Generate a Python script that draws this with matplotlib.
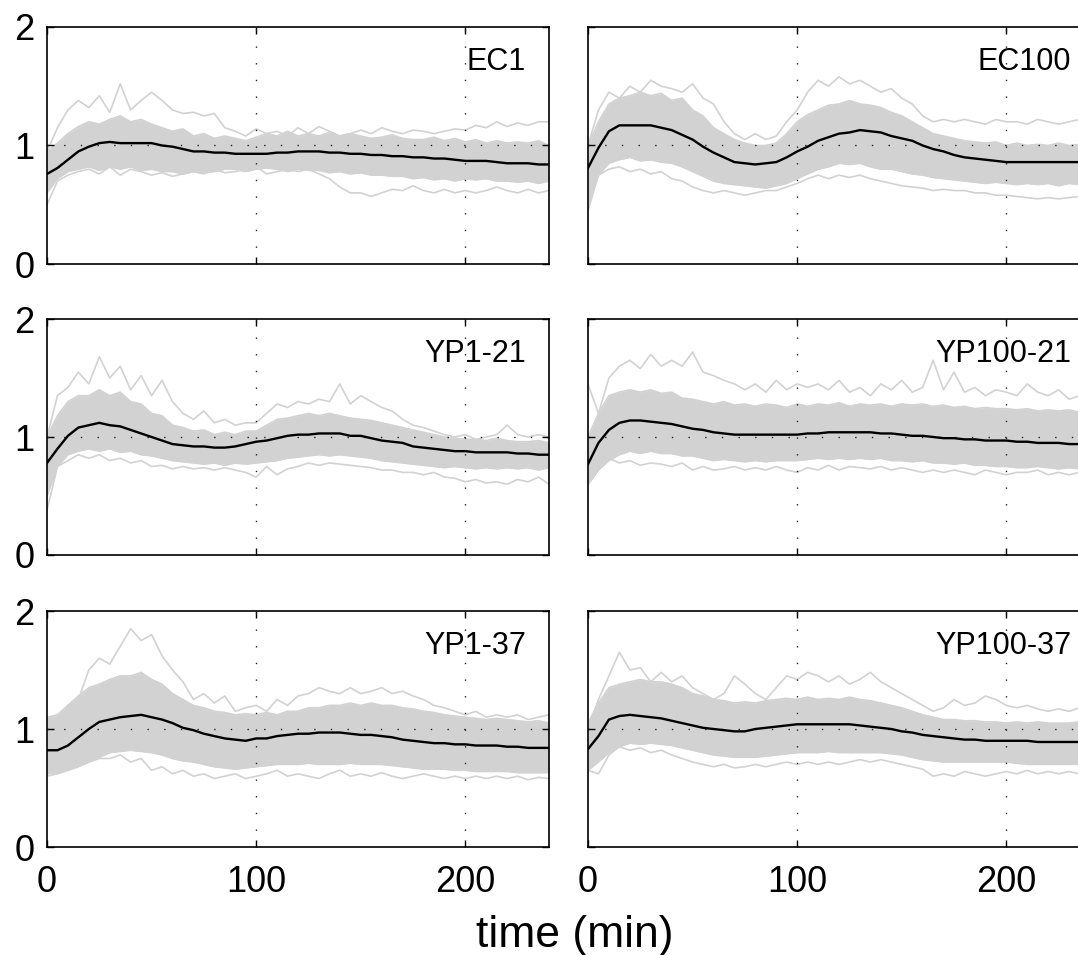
import matplotlib
matplotlib.use("Agg")
import matplotlib.pyplot as plt

plt.rcParams['font.family'] = ['Liberation Sans', 'DejaVu Sans']

# time grid (min)
t5 = list(range(0, 245, 5))

# ---- EC1 ----
ec1_mean = [0.76, 0.81, 0.88, 0.95, 0.99, 1.02, 1.03, 1.02, 1.02, 1.02, 1.02, 1.00, 0.99, 0.97, 0.95, 0.95,
            0.94, 0.94, 0.93, 0.93, 0.93, 0.93, 0.94, 0.94, 0.95, 0.95, 0.95, 0.94, 0.94, 0.93, 0.93, 0.92,
            0.92, 0.91, 0.91, 0.90, 0.90, 0.89, 0.89, 0.88, 0.87, 0.87, 0.87, 0.86, 0.85, 0.85, 0.85, 0.84, 0.84]
ec1_hi = [0.95, 1.02, 1.10, 1.16, 1.20, 1.18, 1.22, 1.25, 1.20, 1.22, 1.18, 1.15, 1.12, 1.14, 1.08, 1.10,
          1.06, 1.08, 1.06, 1.04, 1.07, 1.10, 1.08, 1.12, 1.08, 1.10, 1.08, 1.11, 1.08, 1.10, 1.08, 1.06,
          1.07, 1.09, 1.06, 1.05, 1.05, 1.07, 1.04, 1.06, 1.03, 1.05, 1.02, 1.04, 1.02, 1.03, 1.02, 1.04, 1.00]
ec1_lo = [0.60, 0.72, 0.78, 0.80, 0.82, 0.79, 0.82, 0.80, 0.82, 0.79, 0.80, 0.78, 0.78, 0.76, 0.78, 0.77,
          0.78, 0.80, 0.80, 0.78, 0.80, 0.81, 0.80, 0.78, 0.80, 0.79, 0.79, 0.77, 0.78, 0.76, 0.77, 0.75,
          0.75, 0.74, 0.74, 0.72, 0.73, 0.71, 0.72, 0.70, 0.72, 0.71, 0.72, 0.70, 0.70, 0.69, 0.70, 0.68, 0.70]
ec1_up = [0.95, 1.15, 1.30, 1.38, 1.32, 1.42, 1.28, 1.52, 1.30, 1.38, 1.45, 1.38, 1.30, 1.27, 1.28, 1.25,
          1.27, 1.15, 1.12, 1.08, 1.14, 1.10, 1.12, 1.08, 1.15, 1.10, 1.16, 1.12, 1.08, 1.10, 1.13, 1.10,
          1.15, 1.12, 1.10, 1.13, 1.12, 1.10, 1.12, 1.14, 1.13, 1.17, 1.15, 1.20, 1.16, 1.19, 1.17, 1.20, 1.20]
ec1_dn = [0.50, 0.70, 0.75, 0.78, 0.80, 0.76, 0.82, 0.75, 0.80, 0.78, 0.75, 0.77, 0.74, 0.76, 0.78, 0.76,
          0.80, 0.77, 0.78, 0.80, 0.82, 0.76, 0.78, 0.80, 0.78, 0.80, 0.76, 0.72, 0.65, 0.60, 0.60, 0.57,
          0.60, 0.63, 0.62, 0.66, 0.62, 0.60, 0.63, 0.60, 0.62, 0.60, 0.62, 0.65, 0.62, 0.60, 0.63, 0.60, 0.62]

# ---- EC100 ----
ec100_mean = [0.81, 0.98, 1.12, 1.17, 1.17, 1.17, 1.17, 1.15, 1.13, 1.09, 1.05, 0.99, 0.94, 0.90, 0.86, 0.85,
              0.84, 0.85, 0.86, 0.90, 0.95, 0.99, 1.04, 1.07, 1.10, 1.11, 1.13, 1.12, 1.11, 1.08, 1.06, 1.04,
              1.00, 0.97, 0.95, 0.92, 0.90, 0.89, 0.88, 0.87, 0.86, 0.86, 0.86, 0.86, 0.86, 0.86, 0.86, 0.86, 0.87]
ec100_hi = [1.00, 1.20, 1.35, 1.40, 1.42, 1.45, 1.42, 1.44, 1.38, 1.40, 1.30, 1.25, 1.15, 1.10, 1.05, 1.02,
            1.00, 1.00, 1.02, 1.10, 1.20, 1.26, 1.30, 1.34, 1.35, 1.38, 1.35, 1.34, 1.32, 1.28, 1.25, 1.20,
            1.15, 1.10, 1.08, 1.06, 1.04, 1.03, 1.02, 1.03, 1.00, 1.02, 1.00, 1.01, 1.00, 1.02, 1.00, 1.01, 1.00]
ec100_lo = [0.50, 0.75, 0.85, 0.88, 0.90, 0.87, 0.88, 0.86, 0.85, 0.82, 0.78, 0.74, 0.70, 0.68, 0.67, 0.66,
            0.65, 0.64, 0.66, 0.68, 0.72, 0.76, 0.80, 0.82, 0.85, 0.84, 0.85, 0.82, 0.80, 0.80, 0.78, 0.76,
            0.75, 0.73, 0.72, 0.71, 0.70, 0.69, 0.68, 0.69, 0.68, 0.67, 0.68, 0.67, 0.68, 0.66, 0.68, 0.67, 0.68]
ec100_up = [1.00, 1.30, 1.45, 1.40, 1.50, 1.45, 1.55, 1.50, 1.48, 1.45, 1.52, 1.40, 1.35, 1.20, 1.10, 1.05,
            1.10, 1.05, 1.08, 1.20, 1.30, 1.45, 1.55, 1.50, 1.58, 1.52, 1.55, 1.50, 1.45, 1.48, 1.40, 1.35,
            1.25, 1.20, 1.22, 1.20, 1.22, 1.20, 1.18, 1.22, 1.20, 1.20, 1.18, 1.22, 1.20, 1.18, 1.20, 1.22, 1.20]
ec100_dn = [0.45, 0.75, 0.80, 0.82, 0.78, 0.80, 0.76, 0.78, 0.72, 0.70, 0.65, 0.62, 0.60, 0.62, 0.60, 0.58,
            0.60, 0.62, 0.62, 0.65, 0.68, 0.72, 0.75, 0.72, 0.75, 0.73, 0.75, 0.72, 0.70, 0.68, 0.66, 0.65,
            0.64, 0.62, 0.63, 0.62, 0.62, 0.60, 0.60, 0.58, 0.58, 0.57, 0.56, 0.55, 0.56, 0.55, 0.56, 0.57, 0.58]

# ---- YP1-21 ----
yp121_mean = [0.78, 0.90, 1.01, 1.08, 1.10, 1.12, 1.10, 1.09, 1.06, 1.03, 1.00, 0.97, 0.94, 0.93, 0.92, 0.92,
              0.91, 0.91, 0.92, 0.94, 0.96, 0.97, 0.99, 1.01, 1.02, 1.02, 1.03, 1.03, 1.03, 1.01, 1.01, 0.99,
              0.97, 0.96, 0.95, 0.92, 0.91, 0.90, 0.89, 0.88, 0.88, 0.87, 0.87, 0.87, 0.87, 0.86, 0.86, 0.85, 0.85]
yp121_hi = [1.00, 1.18, 1.30, 1.35, 1.35, 1.40, 1.35, 1.38, 1.30, 1.28, 1.20, 1.18, 1.10, 1.08, 1.05, 1.06,
            1.02, 1.04, 1.02, 1.05, 1.05, 1.10, 1.15, 1.16, 1.18, 1.20, 1.18, 1.20, 1.18, 1.16, 1.15, 1.14,
            1.12, 1.10, 1.08, 1.06, 1.04, 1.02, 1.00, 0.99, 0.98, 0.98, 0.97, 0.99, 0.97, 0.96, 0.96, 0.97, 0.95]
yp121_lo = [0.50, 0.75, 0.85, 0.88, 0.90, 0.88, 0.90, 0.87, 0.88, 0.85, 0.84, 0.82, 0.80, 0.79, 0.78, 0.77,
            0.78, 0.76, 0.78, 0.77, 0.78, 0.79, 0.80, 0.82, 0.83, 0.84, 0.85, 0.84, 0.85, 0.84, 0.83, 0.82,
            0.80, 0.79, 0.78, 0.77, 0.76, 0.75, 0.74, 0.75, 0.74, 0.73, 0.74, 0.73, 0.74, 0.73, 0.74, 0.72, 0.74]
yp121_up = [1.00, 1.35, 1.42, 1.55, 1.45, 1.68, 1.50, 1.60, 1.40, 1.52, 1.35, 1.48, 1.30, 1.20, 1.15, 1.22,
            1.12, 1.15, 1.10, 1.12, 1.12, 1.20, 1.28, 1.25, 1.30, 1.28, 1.32, 1.30, 1.45, 1.28, 1.35, 1.30,
            1.25, 1.22, 1.15, 1.10, 1.08, 1.05, 1.02, 1.00, 1.02, 0.98, 1.00, 1.02, 1.10, 1.02, 1.00, 1.02, 1.00]
yp121_dn = [0.38, 0.75, 0.80, 0.85, 0.82, 0.85, 0.80, 0.82, 0.78, 0.80, 0.75, 0.76, 0.73, 0.75, 0.73, 0.74,
            0.72, 0.74, 0.72, 0.70, 0.66, 0.75, 0.68, 0.73, 0.75, 0.78, 0.76, 0.78, 0.77, 0.76, 0.75, 0.74,
            0.72, 0.72, 0.70, 0.70, 0.68, 0.70, 0.66, 0.65, 0.62, 0.64, 0.61, 0.62, 0.60, 0.64, 0.62, 0.66, 0.60]

# ---- YP100-21 ----
yp10021_mean = [0.77, 0.95, 1.06, 1.12, 1.14, 1.14, 1.13, 1.12, 1.11, 1.09, 1.07, 1.06, 1.04, 1.03, 1.02, 1.02,
                1.02, 1.02, 1.02, 1.02, 1.02, 1.03, 1.03, 1.04, 1.04, 1.04, 1.04, 1.04, 1.03, 1.03, 1.02, 1.01,
                1.01, 1.00, 0.99, 0.99, 0.98, 0.98, 0.97, 0.97, 0.97, 0.96, 0.96, 0.95, 0.95, 0.95, 0.94, 0.94, 0.94]
yp10021_hi = [1.00, 1.20, 1.35, 1.38, 1.40, 1.38, 1.40, 1.37, 1.38, 1.33, 1.32, 1.30, 1.28, 1.30, 1.27, 1.28,
              1.26, 1.28, 1.27, 1.25, 1.28, 1.26, 1.28, 1.27, 1.29, 1.26, 1.28, 1.27, 1.28, 1.26, 1.28, 1.27,
              1.28, 1.26, 1.27, 1.25, 1.26, 1.24, 1.25, 1.24, 1.24, 1.23, 1.24, 1.22, 1.23, 1.22, 1.23, 1.21, 1.22]
yp10021_lo = [0.60, 0.72, 0.80, 0.85, 0.88, 0.86, 0.88, 0.86, 0.86, 0.84, 0.84, 0.82, 0.80, 0.81, 0.80, 0.79,
              0.80, 0.79, 0.80, 0.80, 0.80, 0.81, 0.82, 0.81, 0.82, 0.81, 0.82, 0.81, 0.82, 0.80, 0.80, 0.79,
              0.80, 0.78, 0.78, 0.77, 0.78, 0.76, 0.76, 0.75, 0.75, 0.74, 0.74, 0.75, 0.74, 0.73, 0.74, 0.73, 0.74]
yp10021_up = [1.45, 1.20, 1.50, 1.60, 1.65, 1.58, 1.70, 1.60, 1.65, 1.60, 1.72, 1.55, 1.52, 1.48, 1.45, 1.40,
              1.45, 1.38, 1.48, 1.40, 1.45, 1.42, 1.45, 1.40, 1.48, 1.38, 1.42, 1.35, 1.45, 1.40, 1.48, 1.38,
              1.42, 1.65, 1.40, 1.55, 1.38, 1.42, 1.35, 1.40, 1.38, 1.35, 1.45, 1.38, 1.35, 1.40, 1.32, 1.35, 1.40]
yp10021_dn = [0.60, 0.72, 0.82, 0.78, 0.80, 0.76, 0.78, 0.77, 0.75, 0.78, 0.72, 0.75, 0.72, 0.73, 0.75, 0.72,
              0.74, 0.72, 0.75, 0.72, 0.70, 0.74, 0.72, 0.76, 0.72, 0.75, 0.74, 0.73, 0.75, 0.72, 0.74, 0.72,
              0.70, 0.72, 0.70, 0.72, 0.70, 0.68, 0.72, 0.70, 0.68, 0.70, 0.70, 0.72, 0.68, 0.70, 0.68, 0.70, 0.68]

# ---- YP1-37 ----
yp137_mean = [0.82, 0.82, 0.86, 0.93, 1.00, 1.06, 1.08, 1.10, 1.11, 1.12, 1.10, 1.08, 1.05, 1.01, 0.99, 0.96,
              0.94, 0.92, 0.91, 0.90, 0.92, 0.92, 0.94, 0.95, 0.96, 0.96, 0.97, 0.97, 0.97, 0.96, 0.95, 0.95,
              0.94, 0.93, 0.91, 0.90, 0.89, 0.88, 0.88, 0.87, 0.87, 0.86, 0.86, 0.86, 0.85, 0.85, 0.84, 0.84, 0.84]
yp137_hi = [1.10, 1.12, 1.20, 1.28, 1.35, 1.38, 1.42, 1.45, 1.45, 1.48, 1.42, 1.38, 1.30, 1.25, 1.20, 1.18,
            1.15, 1.14, 1.12, 1.13, 1.12, 1.14, 1.12, 1.15, 1.15, 1.18, 1.18, 1.20, 1.20, 1.22, 1.20, 1.22,
            1.20, 1.20, 1.18, 1.17, 1.15, 1.14, 1.12, 1.11, 1.10, 1.09, 1.08, 1.09, 1.08, 1.07, 1.06, 1.07, 1.05]
yp137_lo = [0.62, 0.63, 0.65, 0.68, 0.72, 0.76, 0.80, 0.81, 0.82, 0.81, 0.80, 0.78, 0.75, 0.73, 0.72, 0.70,
            0.68, 0.67, 0.66, 0.67, 0.68, 0.69, 0.70, 0.70, 0.70, 0.71, 0.70, 0.70, 0.70, 0.71, 0.70, 0.70,
            0.70, 0.69, 0.68, 0.67, 0.66, 0.66, 0.66, 0.65, 0.65, 0.64, 0.64, 0.64, 0.64, 0.63, 0.63, 0.63, 0.63]
yp137_up = [1.10, 0.95, 1.20, 1.25, 1.50, 1.60, 1.55, 1.70, 1.85, 1.75, 1.80, 1.62, 1.50, 1.40, 1.25, 1.30,
            1.22, 1.28, 1.15, 1.18, 1.20, 1.15, 1.25, 1.20, 1.28, 1.30, 1.35, 1.32, 1.30, 1.35, 1.30, 1.32,
            1.35, 1.30, 1.32, 1.28, 1.25, 1.20, 1.18, 1.15, 1.12, 1.15, 1.10, 1.12, 1.10, 1.12, 1.08, 1.10, 1.12]
yp137_dn = [0.60, 0.62, 0.65, 0.70, 0.72, 0.75, 0.75, 0.78, 0.72, 0.75, 0.65, 0.68, 0.62, 0.65, 0.60, 0.62,
            0.58, 0.60, 0.62, 0.58, 0.60, 0.62, 0.65, 0.60, 0.62, 0.60, 0.58, 0.62, 0.65, 0.60, 0.62, 0.60,
            0.63, 0.60, 0.58, 0.60, 0.62, 0.60, 0.58, 0.60, 0.58, 0.60, 0.58, 0.60, 0.58, 0.60, 0.57, 0.59, 0.58]

# ---- YP100-37 ----
yp10037_mean = [0.83, 0.94, 1.08, 1.11, 1.12, 1.11, 1.10, 1.09, 1.07, 1.05, 1.03, 1.01, 1.00, 0.99, 0.98, 0.98,
                1.00, 1.01, 1.02, 1.03, 1.04, 1.04, 1.04, 1.04, 1.04, 1.04, 1.03, 1.02, 1.01, 1.00, 0.98, 0.97,
                0.95, 0.94, 0.93, 0.92, 0.91, 0.91, 0.90, 0.90, 0.90, 0.90, 0.90, 0.89, 0.89, 0.89, 0.89, 0.89, 0.89]
yp10037_hi = [1.05, 1.22, 1.35, 1.38, 1.40, 1.42, 1.40, 1.40, 1.38, 1.35, 1.30, 1.28, 1.25, 1.24, 1.22, 1.23,
              1.22, 1.24, 1.25, 1.26, 1.25, 1.27, 1.25, 1.26, 1.25, 1.27, 1.25, 1.24, 1.22, 1.20, 1.18, 1.15,
              1.12, 1.10, 1.08, 1.08, 1.07, 1.07, 1.06, 1.06, 1.05, 1.06, 1.05, 1.06, 1.05, 1.05, 1.05, 1.06, 1.05]
yp10037_lo = [0.65, 0.72, 0.80, 0.85, 0.88, 0.87, 0.88, 0.87, 0.86, 0.84, 0.82, 0.80, 0.78, 0.77, 0.76, 0.76,
              0.76, 0.77, 0.78, 0.79, 0.80, 0.80, 0.80, 0.81, 0.80, 0.80, 0.80, 0.80, 0.80, 0.79, 0.78, 0.76,
              0.74, 0.73, 0.72, 0.72, 0.72, 0.72, 0.72, 0.72, 0.72, 0.71, 0.70, 0.70, 0.70, 0.70, 0.70, 0.70, 0.70]
yp10037_up = [1.00, 1.25, 1.45, 1.65, 1.50, 1.52, 1.40, 1.48, 1.40, 1.45, 1.35, 1.30, 1.25, 1.30, 1.45, 1.38,
              1.30, 1.25, 1.35, 1.45, 1.42, 1.48, 1.45, 1.40, 1.45, 1.38, 1.42, 1.48, 1.40, 1.35, 1.30, 1.25,
              1.20, 1.15, 1.18, 1.25, 1.20, 1.22, 1.28, 1.25, 1.20, 1.18, 1.20, 1.17, 1.15, 1.17, 1.15, 1.18, 1.15]
yp10037_dn = [0.65, 0.62, 0.78, 0.85, 0.82, 0.84, 0.80, 0.82, 0.78, 0.75, 0.72, 0.70, 0.68, 0.70, 0.67, 0.68,
              0.70, 0.68, 0.70, 0.72, 0.70, 0.72, 0.70, 0.72, 0.70, 0.72, 0.74, 0.72, 0.74, 0.72, 0.70, 0.68,
              0.66, 0.60, 0.62, 0.60, 0.64, 0.62, 0.60, 0.62, 0.64, 0.62, 0.65, 0.62, 0.64, 0.62, 0.64, 0.62, 0.65]

labels = ['EC1', 'EC100', 'YP1-21', 'YP100-21', 'YP1-37', 'YP100-37']
panels = [
    (ec1_mean, ec1_hi, ec1_lo, ec1_up, ec1_dn),
    (ec100_mean, ec100_hi, ec100_lo, ec100_up, ec100_dn),
    (yp121_mean, yp121_hi, yp121_lo, yp121_up, yp121_dn),
    (yp10021_mean, yp10021_hi, yp10021_lo, yp10021_up, yp10021_dn),
    (yp137_mean, yp137_hi, yp137_lo, yp137_up, yp137_dn),
    (yp10037_mean, yp10037_hi, yp10037_lo, yp10037_up, yp10037_dn),
]
xticks = [0, 100, 200]
yticks = [0, 1, 2]

W, H = 1078, 955
fig = plt.figure(figsize=(W / 100, H / 100), dpi=100)

# axes boxes in pixels (left, right) / (top, bottom); right column runs off the page
col_x = [(47, 549), (588, 1090)]
row_y = [(27, 264), (319, 555), (611, 847)]

gray = '#d2d2d2'
for i, (lab, (mean, hi, lo, up, dn)) in enumerate(zip(labels, panels)):
    r, c = divmod(i, 2)
    x0, x1 = col_x[c]
    y0, y1 = row_y[r]
    ax = fig.add_axes([x0 / W, 1 - y1 / H, (x1 - x0) / W, (y1 - y0) / H])

    # cloud of single-cell traces: dense band plus the outermost traces
    ax.fill_between(t5, lo, hi, color=gray, lw=0, zorder=1)
    for tr in (hi, lo, up, dn):
        ax.plot(t5, tr, color=gray, lw=1.2, zorder=1)

    # matlab style dotted grid
    for xv in xticks[1:]:
        ax.axvline(xv, color='#222222', lw=1.0, ls=(0, (1, 11)), zorder=2)
    ax.axhline(yticks[1], color='#222222', lw=1.0, ls=(0, (1, 11)), zorder=2)

    ax.plot(t5, mean, color='black', lw=1.7, zorder=3)

    ax.set_xlim(0, 240)
    ax.set_ylim(0, 2)
    ax.set_xticks(xticks)
    ax.set_yticks(yticks)
    ax.tick_params(direction='in', top=True, right=True, length=5, width=1,
                   labelsize=26)
    ax.tick_params(axis='x', pad=13)
    ax.tick_params(axis='y', pad=9)
    if r < 2:
        ax.set_xticklabels([])
    if c == 1:
        ax.set_yticklabels([])
    for s in ax.spines.values():
        s.set_linewidth(1.2)

    off = -23 if c == 0 else -19
    ax.annotate(lab, xy=(1, 1), xycoords='axes fraction', xytext=(off, -20),
                textcoords='offset pixels', ha='right', va='top', fontsize=22)

fig.text(575 / W, 1 - 935 / H, 'time (min)', ha='center', va='center', fontsize=32)

fig.savefig('out.png', dpi=100)
